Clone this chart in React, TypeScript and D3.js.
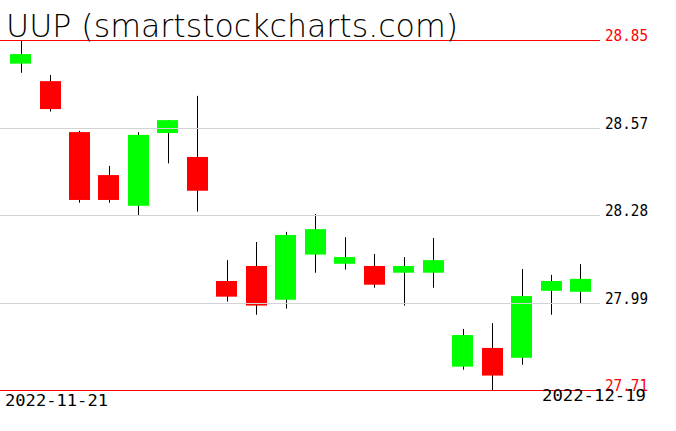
import React from "react";
import * as d3 from "d3";

const dates = ["2022-11-21","2022-11-22","2022-11-23","2022-11-25","2022-11-28","2022-11-29","2022-11-30","2022-12-01","2022-12-02","2022-12-05","2022-12-06","2022-12-07","2022-12-08","2022-12-09","2022-12-12","2022-12-13","2022-12-14","2022-12-15","2022-12-16","2022-12-19"];
const opens = [28.773,28.716,28.550,28.410,28.310,28.547,28.469,28.065,28.114,28.004,28.151,28.121,28.114,28.092,28.092,27.786,27.847,27.815,28.033,28.030];
const highs = [28.85,28.736,28.554,28.440,28.550,28.589,28.668,28.133,28.192,28.225,28.283,28.208,28.153,28.143,28.205,27.909,27.928,28.104,28.085,28.120];
const lows = [28.743,28.617,28.320,28.320,28.280,28.448,28.291,27.998,27.955,27.975,28.092,28.102,28.043,27.985,28.043,27.776,27.71,27.792,27.955,27.991];
const closes = [28.804,28.625,28.329,28.329,28.541,28.589,28.359,28.014,27.985,28.215,28.234,28.143,28.053,28.114,28.133,27.889,27.757,28.016,28.065,28.072];
const gridTicks = [28.565, 28.28, 27.995];
const gridLabels = ["28.57", "28.28", "27.99"];
const maxVal = 28.85;
const minVal = 27.71;
const maxLabel = "28.85";
const minLabel = "27.71";
const title = "UUP (smartstockcharts.com)";

const W = 676;
const H = 431;

export default function App() {
  const y = d3.scaleLinear().domain([minVal, maxVal]).range([390, 40]);
  const x = d3.scaleBand<string>().domain(dates).range([5.8, 595.2]).paddingInner(0.29).paddingOuter(0.145);
  const bw = x.bandwidth();
  const font = "'DejaVu Sans', sans-serif";
  const mono = "'DejaVu Sans Mono', monospace";
  return (
    <svg width={W} height={H} style={{ position: "absolute", left: 0, top: 0, background: "#fff" }}>
      <rect x={0} y={0} width={W} height={H} fill="#fff" />
      {dates.map((d, i) => {
        const cx = Math.round((x(d) as number) + bw / 2) + 0.5;
        return (
          <line key={"w" + i} x1={cx} x2={cx} y1={y(highs[i])} y2={y(lows[i])} stroke="#000" strokeWidth={1} />
        );
      })}
      {dates.map((d, i) => {
        const up = closes[i] >= opens[i];
        const top = y(Math.max(opens[i], closes[i]));
        const bot = y(Math.min(opens[i], closes[i]));
        return (
          <rect key={"b" + i} x={Math.round(x(d) as number)} y={top} width={Math.round(bw)} height={Math.max(1, bot - top)} fill={up ? "#00ff00" : "#ff0000"} />
        );
      })}
      {gridTicks.map((t, i) => (
        <g key={"g" + i}>
          <line x1={0} x2={600} y1={Math.round(y(t)) + 0.5} y2={Math.round(y(t)) + 0.5} stroke="#d3d3d3" strokeWidth={1} />
          <text x={605} y={Math.round(y(t)) + 1} fontFamily={mono} fontSize={15} textLength={43} lengthAdjust="spacingAndGlyphs" fill="#000">{gridLabels[i]}</text>
        </g>
      ))}
      <line x1={0} x2={600} y1={Math.round(y(maxVal)) + 0.5} y2={Math.round(y(maxVal)) + 0.5} stroke="#ff0000" strokeWidth={1} />
      <line x1={0} x2={600} y1={Math.round(y(minVal)) + 0.5} y2={Math.round(y(minVal)) + 0.5} stroke="#ff0000" strokeWidth={1} />
      <text x={605} y={y(maxVal) + 1} fontFamily={mono} fontSize={15} textLength={43} lengthAdjust="spacingAndGlyphs" fill="#ff0000">{maxLabel}</text>
      <text x={605} y={y(minVal) + 1} fontFamily={mono} fontSize={15} textLength={43} lengthAdjust="spacingAndGlyphs" fill="#ff0000">{minLabel}</text>
      <text x={5} y={406} fontFamily={mono} fontSize={15} textLength={103} lengthAdjust="spacingAndGlyphs" fill="#000">{dates[0]}</text>
      <text x={542} y={401} fontFamily={mono} fontSize={15} textLength={104} lengthAdjust="spacingAndGlyphs" fill="#000">{dates[dates.length - 1]}</text>
      <text x={6} y={37} fontFamily={font} fontWeight={200} fontSize={32} textLength={452} lengthAdjust="spacingAndGlyphs" fill="#000">{title}</text>
    </svg>
  );
}
